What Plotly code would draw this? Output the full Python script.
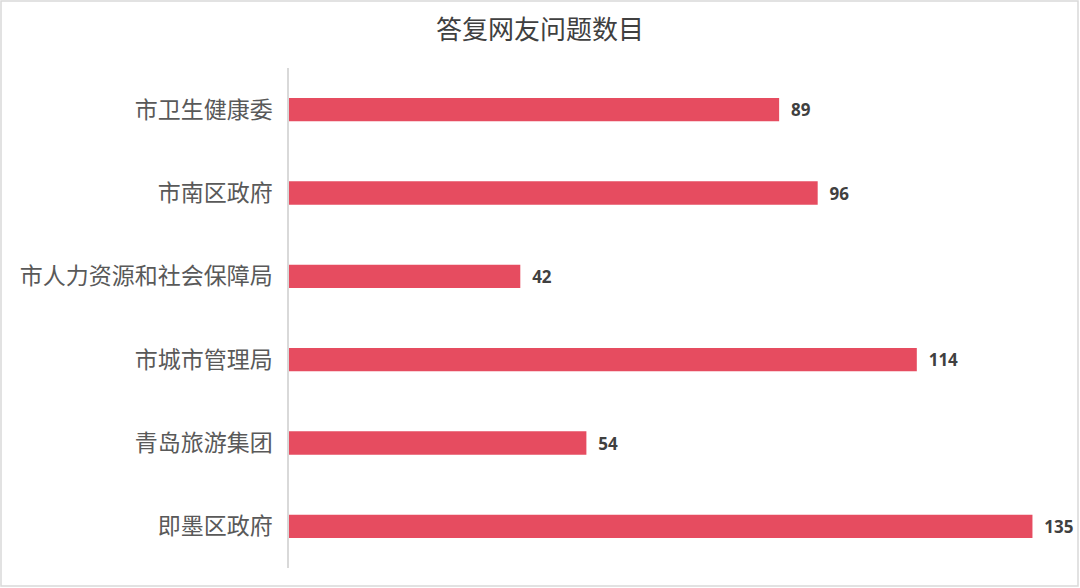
import plotly.graph_objects as go

categories = ['市卫生健康委', '市南区政府', '市人力资源和社会保障局', '市城市管理局', '青岛旅游集团', '即墨区政府']
counts = [89, 96, 42, 114, 54, 135]

W, H = 1080, 588
ml, mr, mt, mb = 289, 20, 68, 20

fig = go.Figure()
fig.add_trace(go.Bar(
    y=categories, x=counts, orientation='h',
    marker=dict(color='#E64C60', line=dict(width=0)),
    text=counts, textposition='outside', cliponaxis=False,
    texttemplate='\u00a0\u00a0<b>%{text}</b>',
    textfont=dict(family='Open Sans, Liberation Sans', size=17, color='#404040'),
))

# grey frame around the whole chart
pw = W - ml - mr
ph = H - mt - mb
fig.add_shape(type='rect', xref='paper', yref='paper',
              x0=(1 - ml) / pw, x1=(W - 2 - ml) / pw,
              y0=-(mb - 2) / ph, y1=(H - 1 - mb) / ph,
              line=dict(color='#D9D9D9', width=1.5), layer='below')

fig.update_layout(
    width=W, height=H,
    margin=dict(l=ml, r=mr, t=mt, b=mb),
    paper_bgcolor='white', plot_bgcolor='white',
    title=dict(text='答复网友问题数目', x=0.5, xanchor='center', y=0.95, yanchor='middle',
               font=dict(family='Noto Sans CJK SC', size=26, color='#404040')),
    bargap=0.72,
    showlegend=False,
)
fig.update_xaxes(range=[0, 140], visible=False)
fig.update_yaxes(autorange='reversed', showline=True, linecolor='#D9D9D9', linewidth=1.5,
                 ticks='', ticklabelstandoff=10, showgrid=False,
                 tickfont=dict(family='Noto Sans CJK SC', size=23, color='#595959'))

fig.write_html('out.html', config={'displayModeBar': False},
               post_script="document.body.style.margin='0';")
